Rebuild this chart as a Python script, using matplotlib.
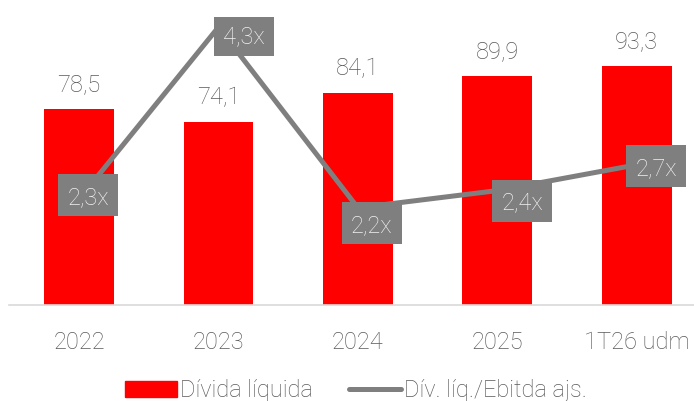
import matplotlib.pyplot as plt
from matplotlib.patches import Patch
from matplotlib.lines import Line2D
from matplotlib.path import Path
from matplotlib.transforms import ScaledTranslation

# dados do grafico
categorias = ["2022", "2023", "2024", "2025", "1T26 udm"]
divida_liquida = [78.5, 74.1, 84.1, 89.9, 93.3]
alavancagem = [2.3, 4.3, 2.2, 2.4, 2.7]

vermelho = "#ff0000"
cinza = "#7f7f7f"
texto = "#595959"
fonte = dict(family=["Roboto", "DejaVu Sans"], weight="light")

fig = plt.figure(figsize=(6.94, 4.01), dpi=100)
ax = fig.add_axes([9.3 / 694, 96 / 401, 697.1 / 694, 288.5 / 401])
x = list(range(len(categorias)))

ax.bar(x, divida_liquida, width=0.5, color=vermelho, zorder=2)
ax.set_xlim(-0.5, 4.5)
ax.set_ylim(10.6, 110.6)

for xi, v in zip(x, divida_liquida):
    ax.annotate(f"{v:.1f}".replace(".", ","), (xi, v), xytext=(0, 13),
                textcoords="offset points", ha="center", va="baseline",
                fontsize=17, color=texto, **fonte)

for s in ["top", "left", "right"]:
    ax.spines[s].set_visible(False)
ax.spines["bottom"].set_color("#d9d9d9")
ax.spines["bottom"].set_linewidth(1.2)
ax.set_yticks([])
ax.set_xticks(x)
ax.set_xticklabels(categorias, fontsize=17, color=texto, **fonte)
ax.tick_params(axis="x", length=0, pad=19)

# eixo secundario para a alavancagem
ax2 = ax.twinx()
ax2.plot(x, alavancagem, color=cinza, lw=3.6, zorder=3)
ax2.set_ylim(1.07, 4.424)
ax2.set_yticks([])
for s in ax2.spines.values():
    s.set_visible(False)

# caixa retangular 60x42 px como marcador
caixa = Path([(-30, -21), (30, -21), (30, 21), (-30, 21), (-30, -21)],
             [Path.MOVETO, Path.LINETO, Path.LINETO, Path.LINETO, Path.CLOSEPOLY])

# deslocamento das caixas de rotulo (em pontos)
desloc = [(6.5, 3.2), (18.4, -5.3), (10, -11.3), (17.8, -7.2), (13.9, -0.7)]
for xi, v, d in zip(x, alavancagem, desloc):
    tr = ax2.transData + ScaledTranslation(d[0] / 72, d[1] / 72, fig.dpi_scale_trans)
    ax2.plot([xi], [v], marker=caixa, markersize=43.2, color=cinza, mew=0,
             transform=tr, zorder=4)
    ax2.text(xi, v, f"{v:.1f}x".replace(".", ","), transform=tr,
             ha="center", va="center_baseline", fontsize=17, color="#f2f2f2",
             zorder=5, **fonte)

handles = [Patch(color=vermelho), Line2D([], [], color=cinza, lw=3.6, solid_capstyle="round")]
fig.legend(handles, ["Dívida líquida", "Dív. líq./Ebitda ajs."],
           loc="center left", bbox_to_anchor=(125 / 694, 1 - 390.5 / 401),
           ncol=2, frameon=False, borderpad=0, borderaxespad=0,
           handlelength=2.2, handleheight=0.64, handletextpad=0.12,
           columnspacing=1.55, labelcolor=texto,
           prop=dict(size=17, **fonte))

fig.savefig("out.png", dpi=100)
